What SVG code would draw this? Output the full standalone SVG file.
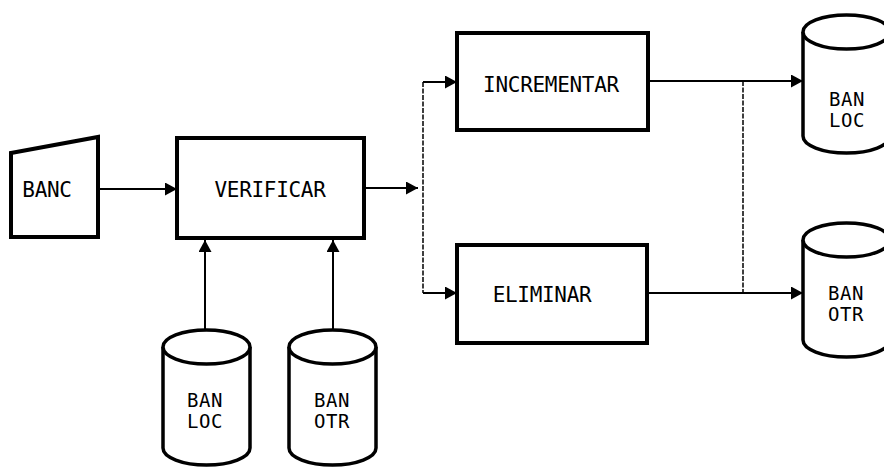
<svg xmlns="http://www.w3.org/2000/svg" width="884" height="468" viewBox="0 0 884 468">
<style>
.box{fill:#fff;stroke:#000;stroke-width:4;stroke-linejoin:miter}
.cyl{fill:#fff;stroke:#000;stroke-width:3.5}
.lbl{font-family:"DejaVu Sans Mono","Liberation Mono",monospace;font-size:21px;fill:#000;text-anchor:middle;letter-spacing:-0.3px}
.cl{font-family:"DejaVu Sans Mono","Liberation Mono",monospace;font-size:19px;fill:#000;text-anchor:middle;letter-spacing:0.5px}
.ln{fill:none;stroke:#000;stroke-width:2}
.dl{fill:none;stroke:#000;stroke-width:1.5;stroke-dasharray:5 1.5}
</style>
<defs>
<marker id="ah" markerUnits="userSpaceOnUse" markerWidth="14" markerHeight="14" refX="12" refY="6.5" orient="auto">
<path d="M0,0 L12,6.5 L0,13 z" fill="#000"/>
</marker>
</defs>
<rect width="884" height="468" fill="#fff"/>
<g id="connectors">
<path class="ln" d="M98,189 H177" marker-end="url(#ah)"/>
<path class="ln" d="M364,188 H418" marker-end="url(#ah)"/>
<path class="dl" d="M423,82 V293"/>
<path class="ln" d="M423,82 H457" marker-end="url(#ah)"/>
<path class="ln" d="M423,293 H457" marker-end="url(#ah)"/>
<path class="ln" d="M648,81 H803" marker-end="url(#ah)"/>
<path class="ln" d="M647,293 H803" marker-end="url(#ah)"/>
<path class="dl" d="M743,81 V293"/>
<path class="ln" d="M205,330 V240" marker-end="url(#ah)"/>
<path class="ln" d="M333,330 V240" marker-end="url(#ah)"/>
</g>
<g id="banc">
<polygon class="box" points="11,153 98,137 98,237 11,237"/>
<text class="lbl" x="47" y="197">BANC</text>
</g>
<g id="verificar">
<rect class="box" x="177" y="138" width="187" height="100"/>
<text class="lbl" x="270" y="197">VERIFICAR</text>
</g>
<g id="incrementar">
<rect class="box" x="457" y="33" width="191" height="97"/>
<text class="lbl" x="551" y="92">INCREMENTAR</text>
</g>
<g id="eliminar">
<rect class="box" x="457" y="245" width="190" height="98"/>
<text class="lbl" x="542" y="302">ELIMINAR</text>
</g>
<g id="ban-loc-out">
<path class="cyl" d="M803,32 V136 A43.5,17 0 0 0 890,136 V32"/>
<ellipse class="cyl" cx="846.5" cy="32" rx="43.5" ry="17"/>
<text class="cl" x="847" y="106">BAN</text>
<text class="cl" x="847" y="127">LOC</text>
</g>
<g id="ban-otr-out">
<path class="cyl" d="M803,240 V340 A43.5,17 0 0 0 890,340 V240"/>
<ellipse class="cyl" cx="846.5" cy="240" rx="43.5" ry="17"/>
<text class="cl" x="846" y="300">BAN</text>
<text class="cl" x="846" y="321">OTR</text>
</g>
<g id="ban-loc-in">
<path class="cyl" d="M163,347 V448 A43.5,17 0 0 0 250,448 V347"/>
<ellipse class="cyl" cx="206.5" cy="347" rx="43.5" ry="17"/>
<text class="cl" x="205" y="407">BAN</text>
<text class="cl" x="205" y="428">LOC</text>
</g>
<g id="ban-otr-in">
<path class="cyl" d="M289,347 V448 A43.5,17 0 0 0 376,448 V347"/>
<ellipse class="cyl" cx="332.5" cy="347" rx="43.5" ry="17"/>
<text class="cl" x="332" y="407">BAN</text>
<text class="cl" x="332" y="428">OTR</text>
</g>
</svg>
